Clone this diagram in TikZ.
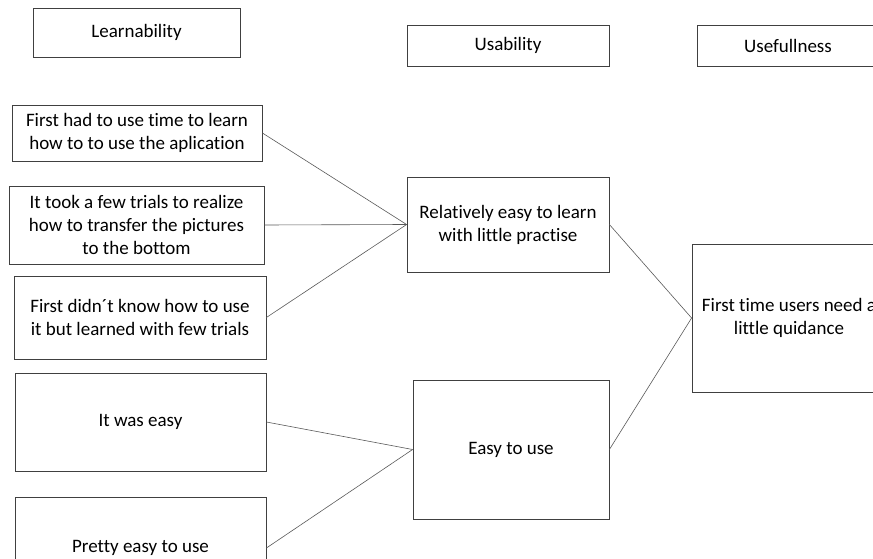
\documentclass[tikz,border=0pt]{standalone}
\usepackage{fontspec}
\setmainfont[Ligatures={NoCommon}]{Carlito}
\begin{document}
\begin{tikzpicture}[x=1pt,y=-1pt,
  box/.style={draw=black!75, line width=0.8pt, inner sep=0pt, align=center,
    font=\fontsize{19}{23}\selectfont},
  link/.style={draw=black!65, line width=0.6pt}]
\useasboundingbox (0,0) rectangle (873,559);
\begin{scope}
\clip (0,0) rectangle (873,559);
\node[box, minimum width=207, minimum height=49] (lea) at (136.5,32.5) {Learnability};
\node[box, minimum width=202, minimum height=41] (usa) at (508,45.5) {Usability};
\node[box, minimum width=182, minimum height=41] (usf) at (788,45.5) {Usefullness};
\node[box, minimum width=250, minimum height=56] (b1) at (137,133) {First had to use time to learn\\how to to use the aplication};
\node[box, minimum width=255, minimum height=78] (b2) at (136.5,225) {It took a few trials to realize\\how to transfer the pictures\\to the bottom};
\node[box, minimum width=252, minimum height=83] (b3) at (140,317.5) {First didn´t know how to use\\it but learned with few trials};
\node[box, minimum width=251, minimum height=98] (b4) at (140.5,422) {It was easy};
\node[box, minimum width=251, minimum height=102] (b5) at (140.5,548) {Pretty easy to use};
\node[box, minimum width=202, minimum height=95] (rel) at (508,224.5) {Relatively easy to learn\\with little practise};
\node[box, minimum width=196, minimum height=139] (eas) at (511,449.5) {Easy to use};
\node[box, minimum width=194, minimum height=148] (fin) at (789,318) {First time users need a\\little quidance};
\draw[link] (b1.east) -- (rel.west);
\draw[link] (b2.east) -- (rel.west);
\draw[link] (b3.east) -- (rel.west);
\draw[link] (b4.east) -- (eas.west);
\draw[link] (b5.east) -- (eas.west);
\draw[link] (rel.east) -- (fin.west);
\draw[link] (eas.east) -- (fin.west);
\end{scope}
\end{tikzpicture}
\end{document}
